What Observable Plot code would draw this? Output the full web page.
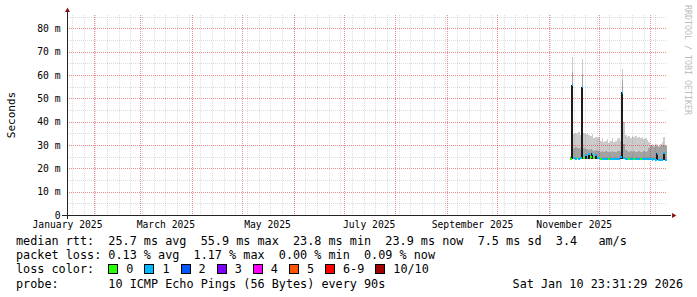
<!DOCTYPE html>
<html><head><meta charset="utf-8">
<script src="https://cdn.jsdelivr.net/npm/d3@7"></script>
<script src="https://cdn.jsdelivr.net/npm/@observablehq/plot@0.6"></script>
<style>
body{margin:0;background:#fff;}
#wrap{position:relative;width:697px;height:297px;overflow:hidden;font-family:"DejaVu Sans Mono",monospace;color:#000;background:#fff;}
#chart{position:absolute;left:0;top:0;}
.leg{position:absolute;left:16px;font-size:11.8px;white-space:pre;line-height:14px;height:14px;}
.box{display:inline-block;width:8px;height:8px;border:1px solid #000;margin-right:8px;vertical-align:-1px;}
.item{display:inline-block;margin-right:11px;}
#ylab{position:absolute;left:11px;top:115px;font-size:11px;transform:translate(-50%,-50%) rotate(-90deg);white-space:pre;}
#wm{position:absolute;left:683px;top:5px;font-size:8.3px;writing-mode:vertical-rl;color:#bdbdbd;white-space:pre;}
</style></head><body>
<div id="wrap"><div id="chart"></div><div id="ylab"></div><div id="wm"></div>
<div class="leg" id="l1" style="top:234px"></div>
<div class="leg" id="l2" style="top:248px"></div>
<div class="leg" id="l3" style="top:262px"></div>
<div class="leg" id="l4" style="top:277px;width:667px"></div>
</div>
<script>
// ---- data ----
const days = [
"2025-11-13","2025-11-14","2025-11-15","2025-11-16","2025-11-17","2025-11-18","2025-11-19","2025-11-20","2025-11-21","2025-11-22",
"2025-11-23","2025-11-24","2025-11-25","2025-11-26","2025-11-27","2025-11-28","2025-11-29","2025-11-30","2025-12-01","2025-12-02",
"2025-12-03","2025-12-04","2025-12-05","2025-12-06","2025-12-07","2025-12-08","2025-12-09","2025-12-10","2025-12-11","2025-12-12",
"2025-12-13","2025-12-14","2025-12-15","2025-12-16","2025-12-17","2025-12-18","2025-12-19","2025-12-20","2025-12-21","2025-12-22",
"2025-12-23","2025-12-24","2025-12-25","2025-12-26","2025-12-27","2025-12-28","2025-12-29","2025-12-30","2025-12-31","2026-01-01",
"2026-01-02","2026-01-03","2026-01-04","2026-01-05","2026-01-06","2026-01-07","2026-01-08","2026-01-09"];
const median = [
24.4,55.9,24.5,24.3,24.6,24.4,24.5,55.0,24.6,25.8,
24.5,26.2,25.1,26.4,24.7,25.9,24.6,24.8,24.3,24.2,
24.3,24.2,24.3,24.4,24.2,24.3,24.2,24.3,24.4,24.3,
25.0,52.6,24.6,24.3,24.2,24.3,24.2,24.2,24.3,24.2,
24.2,24.3,24.2,24.2,24.3,24.2,24.2,24.2,24.1,23.9,
24.0,23.9,26.5,23.9,23.8,23.8,26.6,23.9];
const smokeLow = [
24.1,24.2,24.1,24.1,24.1,24.1,24.1,24.2,24.1,24.1,
24.1,24.1,24.1,24.1,24.1,24.1,24.1,24.1,24.0,24.0,
24.0,24.0,24.0,24.0,24.0,24.0,24.0,24.0,24.0,24.0,
24.0,24.2,24.0,24.0,24.0,24.0,24.0,24.0,24.0,24.0,
24.0,24.0,24.0,24.0,24.0,24.0,24.0,24.0,23.6,23.5,
23.5,23.5,23.5,23.5,23.5,23.5,23.5,23.5];
const smokeOuter = [
25.2,67.8,34.5,35.2,34.8,35.6,34.1,66.8,35.3,34.6,
35.0,34.2,33.8,34.5,33.2,33.6,32.8,33.3,31.5,32.8,
31.2,31.8,32.4,31.0,31.6,32.9,31.4,31.9,32.6,33.1,
31.8,62.5,40.0,34.2,33.6,34.0,33.2,33.8,33.5,33.9,
33.1,33.6,32.9,33.4,32.6,32.9,32.2,31.2,30.1,30.6,
29.8,30.3,30.0,29.7,30.5,31.2,33.3,30.1];
const smokeInner = [
24.9,61.4,28.8,29.1,28.6,28.9,28.4,60.5,28.5,28.2,
28.4,27.9,28.2,27.8,27.6,27.9,27.4,27.6,27.2,27.4,
27.0,27.3,27.1,27.2,27.0,27.4,27.1,27.2,27.3,27.5,
27.2,57.8,30.5,27.8,27.3,27.2,27.4,27.1,27.3,27.2,
27.0,27.3,27.1,27.2,27.4,27.1,27.3,28.6,29.4,29.6,
29.3,29.7,29.5,29.2,29.6,29.8,29.9,29.4];
const smokeCore = [
null,55.9,null,null,null,null,null,55.0,null,25.8,
null,26.2,null,26.4,null,25.9,null,null,null,null,
null,null,null,null,null,null,null,null,null,null,
25.0,52.6,null,null,null,null,null,null,null,null,
null,null,null,null,null,null,null,null,null,null,
null,null,26.5,null,null,null,26.6,null];
const lossCount = [
0,1,1,1,0,1,1,1,0,1,
1,1,0,1,0,1,1,1,0,1,
1,1,1,0,1,1,1,1,1,1,
1,1,1,1,1,0,1,1,0,1,
1,1,0,1,1,1,1,1,1,1,
1,1,1,1,1,1,1,1];
const lossLabels = ["0","1","2","3","4","5","6-9","10/10"];
const lossColors = ["#26ff00","#00b8ff","#0059ff","#7e00ff","#ff00ff","#ff5500","#ff0000","#a10000"];
const yTicks = [0,10,20,30,40,50,60,70,80];
const yTickLabels = ["0","10 m","20 m","30 m","40 m","50 m","60 m","70 m","80 m"];
const xTicks = ["2025-01-16","2025-03-16","2025-05-16","2025-07-16","2025-09-16","2025-11-16"];
const xTickLabels = ["January 2025","March 2025","May 2025","July 2025","September 2025","November 2025"];
const yMajor = [10,20,30,40,50,60,70,80];
const yMinor = [5,15,25,35,45,55,65,75,85];
const statsRtt = "median rtt:  25.7 ms avg  55.9 ms max  23.8 ms min  23.9 ms now  7.5 ms sd  3.4   am/s";
const statsLoss = "packet loss: 0.13 % avg  1.17 % max  0.00 % min  0.09 % now";
const probeText = "10 ICMP Echo Pings (56 Bytes) every 90s";
const stampText = "Sat Jan 10 23:31:29 2026";
const yMaxValue = 85.7;

// ---- build ----
const tEnd = new Date("2026-01-10T23:31:29Z");
const tStart = new Date("2025-01-15T23:31:29Z");
const rows = days.map((d, i) => {
  const t0 = new Date(d + "T18:00:00Z");
  return {t0, t1: new Date(t0.getTime() + 864e5), lo: smokeLow[i], outer: smokeOuter[i],
          inner: smokeInner[i], core: smokeCore[i], median: median[i], loss: lossLabels[lossCount[i]]};
});
const xTickDates = xTicks.map(s => new Date(s + "T00:00:00Z"));
const monthLines = d3.utcMonth.range(tStart, tEnd);
const weekLines = d3.utcSunday.range(tStart, tEnd);
const grid = {strokeDasharray: "1,1", shapeRendering: "crispEdges"};

const plot = Plot.plot({
  width: 697, height: 232,
  marginLeft: 67, marginRight: 30, marginTop: 15, marginBottom: 17,
  style: {fontFamily: "DejaVu Sans Mono", fontSize: "9.7px", background: "#fff", overflow: "visible", color: "#000"},
  x: {type: "utc", domain: [tStart, tEnd]},
  y: {domain: [0, yMaxValue]},
  color: {domain: lossLabels, range: lossColors},
  marks: [
    Plot.rect(rows, {x1: "t0", x2: "t1", y1: "lo", y2: "outer", fill: "#cbcbcb", shapeRendering: "crispEdges"}),
    Plot.rect(rows, {x1: "t0", x2: "t1", y1: "lo", y2: "inner", fill: "#a2a2a2", shapeRendering: "crispEdges"}),
    Plot.rect(rows.filter(r => r.core != null), {x1: "t0", x2: "t1", y1: "lo", y2: "core", fill: "#1c1c1c", insetLeft: -0.2, insetRight: -0.2, shapeRendering: "crispEdges"}),
    Plot.ruleX(weekLines, {...grid, stroke: "#000", strokeOpacity: 0.13}),
    Plot.ruleY(yMinor, {...grid, stroke: "#000", strokeOpacity: 0.13}),
    Plot.ruleX(monthLines, {...grid, stroke: "#e00000", strokeOpacity: 0.45}),
    Plot.ruleY(yMajor, {...grid, stroke: "#e00000", strokeOpacity: 0.45}),
    Plot.ruleY(rows, {x1: "t0", x2: "t1", y: "median", stroke: "loss", strokeWidth: 2, shapeRendering: "crispEdges"}),
    Plot.axisX(xTickDates, {tickSize: 0, tickPadding: 6, tickFormat: d => xTickLabels[xTickDates.findIndex(t => +t === +d)], label: null}),
    Plot.axisY(yTicks, {tickSize: 0, tickPadding: 7, tickFormat: d => yTickLabels[yTicks.indexOf(d)], label: null}),
    Plot.ruleY([0], {stroke: "#222", insetLeft: -5, insetRight: -4, shapeRendering: "crispEdges"}),
    Plot.ruleX([tStart], {stroke: "#222", insetTop: -5, insetBottom: -4, shapeRendering: "crispEdges"}),
    Plot.dot([{x: tEnd, y: 0}], {x: "x", y: "y", symbol: "triangle2", r: 2.4, rotate: 90, dx: 6, fill: "#8b1010", stroke: "none"}),
    Plot.dot([{x: tStart, y: yMaxValue}], {x: "x", y: "y", symbol: "triangle2", r: 2.4, dy: -5, fill: "#8b1010", stroke: "none"})
  ]
});
document.getElementById("chart").appendChild(plot);
document.getElementById("ylab").textContent = "Seconds";
document.getElementById("wm").textContent = "RRDTOOL / TOBI OETIKER";
document.getElementById("l1").textContent = statsRtt;
document.getElementById("l2").textContent = statsLoss;
const l3 = document.getElementById("l3");
l3.appendChild(document.createTextNode("loss color:  "));
lossLabels.forEach((lab, i) => {
  const it = document.createElement("span"); it.className = "item";
  const b = document.createElement("span"); b.className = "box"; b.style.background = lossColors[i];
  it.appendChild(b); it.appendChild(document.createTextNode(lab)); l3.appendChild(it);
});
const l4 = document.getElementById("l4");
l4.appendChild(document.createTextNode("probe:       " + probeText));
const st = document.createElement("span"); st.style.cssText = "position:absolute;right:0;top:0;";
st.textContent = stampText; l4.appendChild(st);
</script>
</body></html>
